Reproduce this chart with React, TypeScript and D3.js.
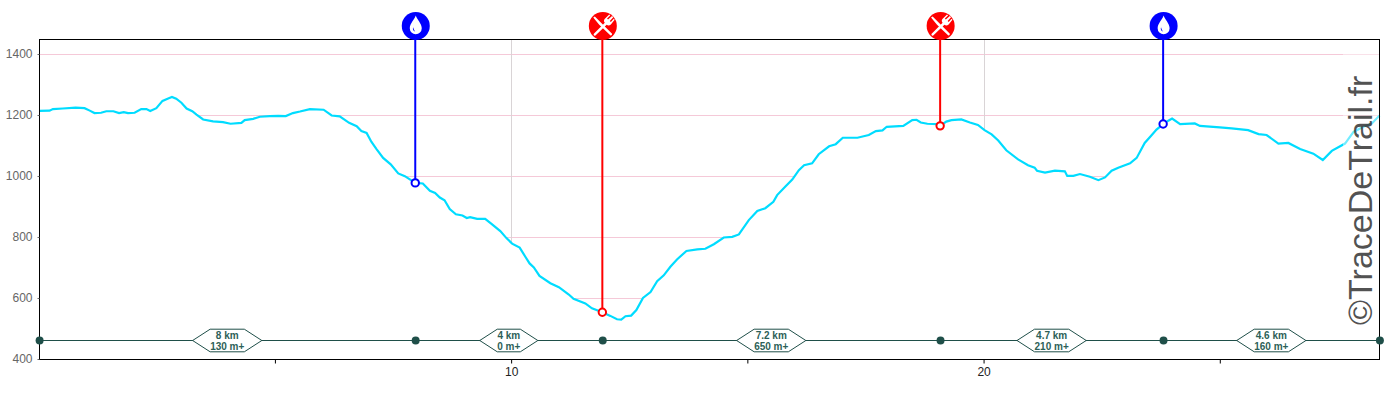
import React, { useEffect, useRef } from 'react';
import * as d3 from 'd3';

// profil altimetrique : distance (km) / altitude (m)
const distances = [
  0, 0.22, 0.29, 0.5, 0.77, 0.96, 1.07, 1.17, 1.31, 1.42, 1.57, 1.69, 1.79, 1.88, 2.02, 2.16, 2.27, 2.35, 2.48, 2.61,
  2.73, 2.81, 2.9, 3.01, 3.12, 3.24, 3.33, 3.47, 3.68, 3.89, 4.05, 4.28, 4.35, 4.53, 4.67, 4.88, 5.06, 5.22, 5.37, 5.52,
  5.73, 6.02, 6.19, 6.36, 6.56, 6.72, 6.82, 6.93, 7.03, 7.14, 7.28, 7.44, 7.6, 7.74, 7.96, 8.12, 8.27, 8.38, 8.48, 8.58,
  8.69, 8.82, 8.96, 9.05, 9.12, 9.27, 9.44, 9.58, 9.76, 9.89, 10.01, 10.17, 10.29, 10.38, 10.47, 10.59, 10.82, 11.0, 11.21, 11.31,
  11.56, 11.7, 11.92, 12.09, 12.23, 12.32, 12.41, 12.53, 12.64, 12.78, 12.94, 13.08, 13.22, 13.36, 13.5, 13.7, 13.93, 14.1, 14.28, 14.49,
  14.67, 14.81, 15.02, 15.2, 15.37, 15.54, 15.62, 15.8, 15.94, 16.08, 16.19, 16.36, 16.5, 16.72, 16.86, 17.01, 17.32, 17.56, 17.71, 17.85,
  17.94, 18.29, 18.48, 18.57, 18.66, 18.8, 19.01, 19.07, 19.2, 19.31, 19.52, 19.7, 19.87, 20.01, 20.16, 20.3, 20.47, 20.72, 20.93, 21.07,
  21.12, 21.29, 21.5, 21.71, 21.76, 21.89, 22.03, 22.24, 22.42, 22.56, 22.7, 22.84, 23.09, 23.23, 23.4, 23.55, 23.65, 23.79, 23.9, 23.98,
  24.15, 24.46, 24.57, 24.99, 25.24, 25.59, 25.81, 25.98, 26.23, 26.44, 26.69, 26.97, 27.17, 27.36, 27.64, 27.82, 28.03, 28.21, 28.37,
];
const elevations = [
  1215, 1216, 1221, 1223, 1226, 1224, 1216, 1208, 1209, 1214, 1214, 1208, 1211, 1208, 1209, 1221, 1221, 1215, 1224, 1248,
  1256, 1261, 1255, 1242, 1223, 1214, 1203, 1187, 1181, 1178, 1173, 1176, 1185, 1189, 1196, 1198, 1199, 1198, 1208, 1213,
  1221, 1219, 1200, 1197, 1176, 1165, 1149, 1143, 1114, 1090, 1061, 1040, 1010, 1001, 979, 977, 953, 946, 931, 922,
  893, 876, 872, 864, 867, 861, 861, 844, 821, 798, 780, 767, 737, 715, 702, 674, 650, 637, 613, 599,
  584, 568, 555, 543, 532, 531, 542, 544, 562, 602, 621, 657, 676, 704, 728, 756, 761, 763, 778, 800,
  802, 810, 857, 887, 896, 917, 939, 968, 990, 1021, 1037, 1043, 1073, 1099, 1106, 1127, 1127, 1136, 1149, 1151,
  1163, 1166, 1185, 1186, 1177, 1173, 1172, 1166, 1180, 1185, 1187, 1177, 1169, 1152, 1138, 1118, 1086, 1056, 1037, 1029,
  1019, 1013, 1019, 1017, 1002, 1002, 1008, 999, 988, 997, 1019, 1029, 1043, 1061, 1110, 1136, 1154, 1172, 1183, 1190,
  1172, 1174, 1166, 1161, 1158, 1152, 1139, 1136, 1108, 1110, 1090, 1075, 1054, 1084, 1108, 1146, 1163, 1174, 1200,
];

// ravitaillements
const stopKm = [7.96, 11.92, 19.07, 23.79];
const stopEle = [979, 555, 1166, 1172];
const stopType = ['water', 'food', 'food', 'water'];

// sections entre points de passage
const sectionKm = [0, 7.96, 11.92, 19.07, 23.79, 28.37];
const sectionDist = ['8 km', '4 km', '7.2 km', '4.7 km', '4.6 km'];
const sectionGain = ['130 m+', '0 m+', '650 m+', '210 m+', '160 m+'];

const xTicks = [5, 10, 15, 20, 25];
const xLabelled = [10, 20];
const yTicks = [400, 600, 800, 1000, 1200, 1400];

const WATER = '#0000ff';
const FOOD = '#ff0000';
const SECTION = '#1f4f49';
const FONT = '"Liberation Sans", Arial, sans-serif';
const DROP = 'M0,-10.5 C1.2,-6.5 6,-2.5 6,2.2 A6,6 0 0 1 -6,2.2 C-6,-2.5 -1.2,-6.5 0,-10.5 Z';
const DROP_SHINE = 'M-2.6,1.2 C-3.4,3.4 -2.4,5 -0.6,5.4 C-1.8,4 -2,2.8 -2.6,1.2 Z';
const KNIFE = 'M-9.6,-8.4 L-8,-9.6 L9,7.6 C9.8,8.4 8.4,10 7.4,9.2 L-3.6,-1.2 Z';
const FORK = 'M9.2,-10 L10.4,-8.8 L7,-5 L8,-4 L11,-7.2 L11.8,-6.2 L8,-1.4 C6.4,0 5,-0.2 3.8,-1.2 L-7.4,9.4 C-8.4,10.2 -9.8,8.8 -9,7.8 L2,-3.2 C1,-4.4 0.8,-5.6 1.8,-7 L6.4,-11.4 L7.4,-10.4 L4.2,-7.4 L5.2,-6.4 Z';

const App: React.FC = () => {
  const svgRef = useRef<SVGSVGElement>(null);

  useEffect(() => {
    if (!svgRef.current) return;

    const svg = d3.select(svgRef.current);
    svg.selectAll('*').remove();

    const left = 39.5;
    const right = 1379.5;
    const top = 39.5;
    const bottom = 359.5;

    const x = d3.scaleLinear().domain([0, 28.37]).range([39.2, right]);
    const y = d3.scaleLinear().domain([400, 1449.2]).range([bottom, top]);
    const points = distances.map((d, i) => [d, elevations[i]] as [number, number]);

    // grille
    svg.append('g')
      .selectAll('line')
      .data(yTicks.slice(1))
      .enter()
      .append('line')
      .attr('x1', left)
      .attr('x2', right)
      .attr('y1', d => y(d))
      .attr('y2', d => y(d))
      .attr('stroke', '#f5c9d8')
      .attr('stroke-width', 1);

    svg.append('g')
      .selectAll('line')
      .data(xLabelled)
      .enter()
      .append('line')
      .attr('x1', d => Math.floor(x(d)) + 0.5)
      .attr('x2', d => Math.floor(x(d)) + 0.5)
      .attr('y1', top)
      .attr('y2', bottom)
      .attr('stroke', '#d9d4d6')
      .attr('stroke-width', 1);

    // le blanc sous la courbe masque la grille
    const area = d3.area<[number, number]>()
      .x(d => x(d[0]))
      .y0(bottom)
      .y1(d => y(d[1]));
    svg.append('path').attr('d', area(points)).attr('fill', '#fff');

    const line = d3.line<[number, number]>()
      .x(d => x(d[0]))
      .y(d => y(d[1]));
    svg.append('path')
      .attr('d', line(points))
      .attr('fill', 'none')
      .attr('stroke', '#00dcff')
      .attr('stroke-width', 2.2);

    // voile du filigrane
    svg.append('rect')
      .attr('x', 1343)
      .attr('y', top)
      .attr('width', right - 1343)
      .attr('height', bottom - top)
      .attr('fill', '#fff')
      .attr('fill-opacity', 0.45);

    // cadre
    svg.append('rect')
      .attr('x', left)
      .attr('y', top)
      .attr('width', right - left)
      .attr('height', bottom - top)
      .attr('fill', 'none')
      .attr('stroke', '#000')
      .attr('stroke-width', 1);

    // axes
    const xAxis = d3.axisBottom(x)
      .tickValues(xTicks)
      .tickSize(4)
      .offset(0)
      .tickFormat(d => (xLabelled.includes(d as number) ? String(d) : ''));
    const xGroup = svg.append('g')
      .attr('transform', `translate(0, ${bottom})`)
      .style('opacity', 0.999)
      .call(xAxis);
    xGroup.select('.domain').remove();
    xGroup.selectAll('.tick line').attr('stroke', '#000');
    xGroup.selectAll('.tick text')
      .attr('y', 8)
      .style('font-family', FONT)
      .style('font-size', '12px')
      .style('fill', '#222');

    const yAxis = d3.axisLeft(y).tickValues(yTicks).tickSize(2).offset(0).tickFormat(d => String(d));
    const yGroup = svg.append('g')
      .attr('transform', `translate(${left}, 0)`)
      .style('opacity', 0.999)
      .call(yAxis);
    yGroup.select('.domain').remove();
    yGroup.selectAll('.tick line').attr('stroke', '#666');
    yGroup.selectAll('.tick text')
      .attr('x', -7)
      .attr('dy', '0.32em')
      .style('font-family', FONT)
      .style('font-size', '12px')
      .style('fill', '#666');

    // sections
    const sectionY = 340.5;
    svg.append('line')
      .attr('x1', x(sectionKm[0]))
      .attr('x2', x(sectionKm[sectionKm.length - 1]))
      .attr('y1', sectionY)
      .attr('y2', sectionY)
      .attr('stroke', SECTION)
      .attr('stroke-width', 1);

    svg.append('g')
      .selectAll('circle')
      .data(sectionKm)
      .enter()
      .append('circle')
      .attr('cx', d => x(d) + 0.4)
      .attr('cy', sectionY)
      .attr('r', 4)
      .attr('fill', SECTION);

    sectionDist.forEach((label, i) => {
      const cx = (x(sectionKm[i]) + x(sectionKm[i + 1])) / 2;
      const g = svg.append('g')
        .attr('transform', `translate(${cx}, ${sectionY})`)
        .style('opacity', 0.999);
      const t1 = g.append('text')
        .attr('y', -1.8)
        .attr('text-anchor', 'middle')
        .attr('font-family', FONT)
        .attr('font-size', 10)
        .attr('font-weight', 700)
        .attr('fill', '#2d5f58')
        .text(label);
      const t2 = g.append('text')
        .attr('y', 9.2)
        .attr('text-anchor', 'middle')
        .attr('font-family', FONT)
        .attr('font-size', 10)
        .attr('font-weight', 700)
        .attr('fill', '#2d5f58')
        .text(sectionGain[i]);
      const w = Math.max(t1.node()!.getComputedTextLength(), t2.node()!.getComputedTextLength()) / 2;
      g.insert('path', 'text')
        .attr('d', `M${-w - 17.5},0 L${-w},-11.3 L${w},-11.3 L${w + 17.5},0 L${w},11.3 L${-w},11.3 Z`)
        .attr('fill', '#fff')
        .attr('stroke', SECTION)
        .attr('stroke-width', 1);
    });

    // ravitaillements
    stopKm.forEach((km, i) => {
      const color = stopType[i] === 'water' ? WATER : FOOD;
      const px = x(km);
      svg.append('line')
        .attr('x1', px)
        .attr('x2', px)
        .attr('y1', top)
        .attr('y2', y(stopEle[i]))
        .attr('stroke', color)
        .attr('stroke-width', 2);
      svg.append('circle')
        .attr('cx', px)
        .attr('cy', y(stopEle[i]))
        .attr('r', 3.7)
        .attr('fill', '#fff')
        .attr('stroke', color)
        .attr('stroke-width', 2);

      const icon = svg.append('g').attr('transform', `translate(${px + 0.5}, 26)`);
      icon.append('circle').attr('r', 14).attr('fill', color);
      if (stopType[i] === 'water') {
        icon.append('path').attr('d', DROP).attr('fill', '#fff');
        icon.append('path').attr('d', DROP_SHINE).attr('fill', color);
      } else {
        icon.append('path').attr('d', KNIFE).attr('fill', '#fff');
        icon.append('path').attr('d', FORK).attr('fill', '#fff');
      }
    });

    // filigrane
    svg.append('text')
      .attr('transform', 'translate(1371.5, 325) rotate(-90)')
      .attr('font-family', FONT)
      .attr('font-size', 34)
      .attr('fill', '#333')
      .attr('fill-opacity', 0.85)
      .text('©TraceDeTrail.fr');
  }, []);

  return (
    <svg
      ref={svgRef}
      width={1400}
      height={400}
      style={{ position: 'absolute', left: 0, top: 0, display: 'block' }}
    />
  );
};

export default App;
